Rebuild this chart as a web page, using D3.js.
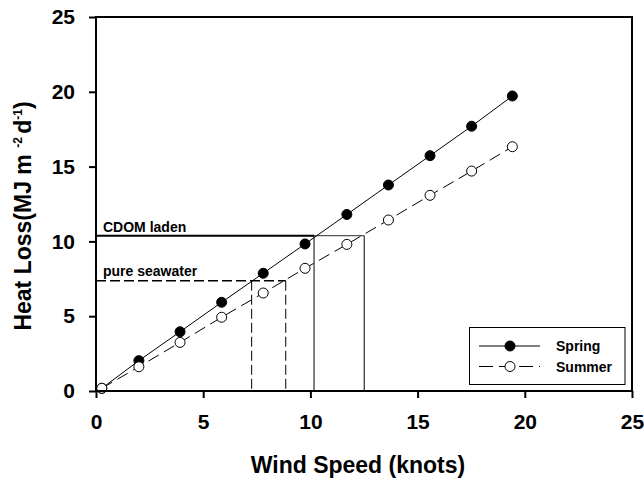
<!DOCTYPE html>
<html>
<head>
<meta charset="utf-8">
<script src="https://cdn.jsdelivr.net/npm/d3@7"></script>
<style>
  html, body { margin: 0; padding: 0; background: #fff; }
  svg { display: block; font-family: "Liberation Sans", Arial, Helvetica, sans-serif; }
</style>
</head>
<body>
<svg id="chart" width="644" height="480"></svg>
<script>
// Wind speed (knots) at each model point
const windSpeed = [0.27, 2.0, 3.92, 5.86, 7.8, 9.75, 11.7, 13.64, 15.58, 17.52, 19.42];
// Heat loss (MJ m^-2 d^-1) per season
const springLoss = [0.18, 2.03, 3.96, 5.93, 7.87, 9.83, 11.8, 13.77, 15.73, 17.7, 19.72];
const summerLoss = [0.18, 1.62, 3.25, 4.93, 6.55, 8.2, 9.8, 11.43, 13.08, 14.7, 16.33];
// Axis ticks
const xTicks = [0, 5, 10, 15, 20, 25];
const yTicks = [0, 5, 10, 15, 20, 25];
// Reference heat-loss levels and the wind speeds where each season reaches them
const cdomLevel = 10.38;
const cdomWind = [10.17, 12.51];
const pureLevel = 7.37;
const pureWind = [7.26, 8.85];
const seriesNames = ["Spring", "Summer"];

const svg = d3.select("#chart");
const x = d3.scaleLinear().domain([0, 25]).range([96, 632]);
const y = d3.scaleLinear().domain([0, 25]).range([391, 17]);

// Reference lines: CDOM laden (solid) and pure seawater (dashed)
const ref = svg.append("g").attr("fill", "none").attr("stroke", "#000");
ref.append("line")
  .attr("x1", x(0)).attr("x2", x(cdomWind[0]))
  .attr("y1", y(cdomLevel)).attr("y2", y(cdomLevel))
  .attr("stroke-width", 2);
ref.append("line")
  .attr("x1", x(cdomWind[0])).attr("x2", x(cdomWind[1]))
  .attr("y1", y(cdomLevel)).attr("y2", y(cdomLevel))
  .attr("stroke", "#555").attr("stroke-width", 1.2);
cdomWind.forEach(w => {
  ref.append("line")
    .attr("x1", x(w)).attr("x2", x(w))
    .attr("y1", y(cdomLevel)).attr("y2", y(0))
    .attr("stroke-width", 1);
});
ref.append("line")
  .attr("x1", x(0)).attr("x2", x(pureWind[1]))
  .attr("y1", y(pureLevel)).attr("y2", y(pureLevel))
  .attr("stroke-width", 1.3).attr("stroke-dasharray", "10,4");
pureWind.forEach(w => {
  ref.append("line")
    .attr("x1", x(w)).attr("x2", x(w))
    .attr("y1", y(pureLevel)).attr("y2", y(0))
    .attr("stroke-width", 1).attr("stroke-dasharray", "10,4");
});

svg.append("text").attr("x", 103).attr("y", 232)
  .attr("font-size", 14).attr("font-weight", "bold").text("CDOM laden");
svg.append("text").attr("x", 103).attr("y", 276)
  .attr("font-size", 14).attr("font-weight", "bold").text("pure seawater");

// Series lines
const springPts = windSpeed.map((w, i) => [w, springLoss[i]]);
const summerPts = windSpeed.map((w, i) => [w, summerLoss[i]]);
const line = d3.line().x(d => x(d[0])).y(d => y(d[1]));

svg.append("path").datum(springPts).attr("d", line)
  .attr("fill", "none").attr("stroke", "#000").attr("stroke-width", 1);
svg.append("path").datum(summerPts).attr("d", line)
  .attr("fill", "none").attr("stroke", "#000").attr("stroke-width", 1)
  .attr("stroke-dasharray", "12,6");

svg.append("g").selectAll("circle").data(springPts).join("circle")
  .attr("cx", d => x(d[0])).attr("cy", d => y(d[1])).attr("r", 5)
  .attr("fill", "#000").attr("stroke", "#000");
svg.append("g").selectAll("circle").data(summerPts).join("circle")
  .attr("cx", d => x(d[0])).attr("cy", d => y(d[1])).attr("r", 5)
  .attr("fill", "#fff").attr("stroke", "#000").attr("stroke-width", 1);

// Frame and axes
svg.append("rect")
  .attr("x", x(0)).attr("y", y(25))
  .attr("width", x(25) - x(0)).attr("height", y(0) - y(25))
  .attr("fill", "none").attr("stroke", "#000").attr("stroke-width", 2);

const xAxis = svg.append("g").attr("transform", `translate(0,${y(0)})`)
  .call(d3.axisBottom(x).tickValues(xTicks).tickSize(7).tickFormat(d3.format("d")));
xAxis.select(".domain").remove();
xAxis.selectAll(".tick line").attr("stroke-width", 2);
xAxis.selectAll(".tick text").attr("y", 23).attr("dy", "0.71em")
  .attr("font-size", 21).attr("font-weight", "bold")
  .attr("font-family", "'Liberation Sans', Arial, sans-serif").attr("fill", "#000");

const yAxis = svg.append("g").attr("transform", `translate(${x(0)},0)`)
  .call(d3.axisLeft(y).tickValues(yTicks).tickSize(7).tickFormat(d3.format("d")));
yAxis.select(".domain").remove();
yAxis.selectAll(".tick line").attr("stroke-width", 2);
yAxis.selectAll(".tick text").attr("x", -21)
  .attr("font-size", 21).attr("font-weight", "bold")
  .attr("font-family", "'Liberation Sans', Arial, sans-serif").attr("fill", "#000");

// Axis titles
svg.append("text")
  .attr("x", 358).attr("y", 473)
  .attr("text-anchor", "middle").attr("font-size", 23).attr("font-weight", "bold")
  .text("Wind Speed (knots)");

const yTitle = svg.append("text")
  .attr("transform", "translate(31,216) rotate(-90)")
  .attr("text-anchor", "middle").attr("font-size", 23).attr("font-weight", "bold");
yTitle.append("tspan").text("Heat Loss(MJ m ");
yTitle.append("tspan").attr("font-size", 12).attr("dy", -9).text("  -2 ");
yTitle.append("tspan").attr("dy", 9).text("d");
yTitle.append("tspan").attr("font-size", 12).attr("dy", -9).text("-1");
yTitle.append("tspan").attr("dy", 9).text(")");

// Legend
const lg = svg.append("g");
lg.append("rect").attr("x", 469.5).attr("y", 327.5).attr("width", 155.5).attr("height", 57)
  .attr("fill", "#fff").attr("stroke", "#000").attr("stroke-width", 1);
const rows = [
  { name: seriesNames[0], yy: 346, fill: "#000", dash: null },
  { name: seriesNames[1], yy: 366.5, fill: "#fff", dash: "14,6" }
];
rows.forEach(r => {
  lg.append("line").attr("x1", 479).attr("x2", 540).attr("y1", r.yy).attr("y2", r.yy)
    .attr("stroke", "#000").attr("stroke-width", 1).attr("stroke-dasharray", r.dash);
  lg.append("circle").attr("cx", 510).attr("cy", r.yy).attr("r", 5)
    .attr("fill", r.fill).attr("stroke", "#000");
  lg.append("text").attr("x", 556).attr("y", r.yy + 5)
    .attr("font-size", 14).attr("font-weight", "bold").text(r.name);
});
</script>
</body>
</html>
